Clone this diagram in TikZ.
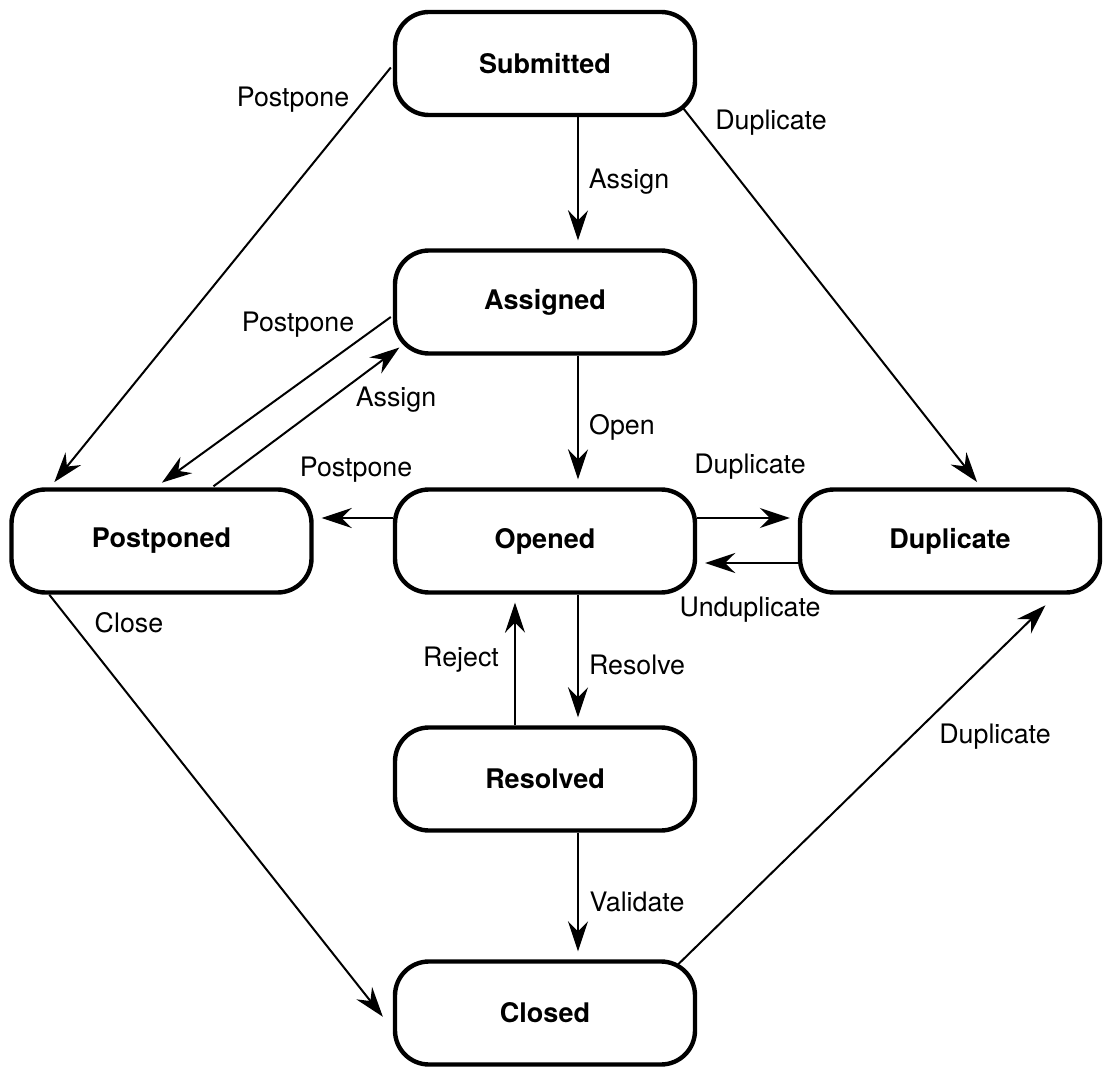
\documentclass[tikz,border=0pt]{standalone}
\usepackage{fontspec}
\setmainfont{TeX Gyre Heros}
\usetikzlibrary{arrows.meta,calc}
\tikzset{
  state/.style={draw=black, line width=2.2pt, fill=white,
                rounded corners=17pt, minimum width=150pt,
                minimum height=51.5pt, inner sep=0pt,
                font=\fontsize{13.5}{15}\selectfont\bfseries},
  flow/.style={-{Stealth[length=15pt,width=10pt,inset=5pt]},
               line width=1pt, shorten >=4pt},
  lab/.style={inner sep=0pt, font=\fontsize{13.4}{15}\selectfont},
}

\begin{document}
\begin{tikzpicture}[x=0.5pt,y=-0.5pt]
  \path[use as bounding box] (0,0) rectangle (1103,1069);

  % states
  \node[state] (sub) at (545,63.5) {Submitted};
  \node[state] (asg) at (545,302) {Assigned};
  \node[state] (pst) at (161.5,541) {Postponed};
  \node[state] (opn) at (545,541) {Opened};
  \node[state] (dup) at (950,541) {Duplicate};
  \node[state] (res) at (545,779) {Resolved};
  \node[state] (cls) at (545,1013) {Closed};

  % main column
  \draw[flow] ($(sub.south)+(33,0)$) -- ($(asg.north)+(33,0)$);
  \draw[flow] ($(asg.south)+(33,0)$) -- ($(opn.north)+(33,0)$);
  \draw[flow] ($(opn.south)+(33,0)$) -- ($(res.north)+(33,0)$);
  \draw[flow] ($(res.north)+(-30,0)$) -- ($(opn.south)+(-30,0)$);
  \draw[flow] ($(res.south)+(33,0)$) -- ($(cls.north)+(33,0)$);

  % sideways
  \draw[flow] ($(opn.east)+(0,-23)$) -- ($(dup.west)+(0,-23)$);
  \draw[flow] ($(dup.west)+(0,22)$) -- ($(opn.east)+(0,22)$);
  \draw[flow] ($(opn.west)+(0,-23)$) -- ($(pst.east)+(0,-23)$);

  % diagonals
  \draw[flow] ($(sub.west)+(-2,4)$) -- ($(pst.north west)+(40,1)$);
  \draw[flow] ($(asg.west)+(-2,15)$) -- ($(pst.north)+(-6,0)$);
  \draw[flow] ($(pst.north)+(52,-1)$) -- ($(asg.south west)+(13,-13)$);
  \draw[flow] ($(pst.south west)+(40,0)$) -- ($(cls.west)+(-5,10)$);
  \draw[flow] ($(sub.south east)+(-14,-9)$) -- ($(dup.north)+(32,1)$);
  \draw[flow] ($(cls.north east)+(-19,5)$) -- ($(dup.south east)+(-51,5)$);

  % labels
  \node[lab] (lassign1) at (629,182) {Assign};
  \node[lab] (lopen) at (622,427) {Open};
  \node[lab] (lresolve) at (637,665) {Resolve};
  \node[lab] (lreject) at (461,660) {Reject};
  \node[lab] (lvalidate) at (637,902) {Validate};
  \node[lab] (ldup1) at (750,467) {Duplicate};
  \node[lab] (lundup) at (750,610) {Unduplicate};
  \node[lab] (lpost1) at (356,470) {Postpone};
  \node[lab] (lpost2) at (293,100) {Postpone};
  \node[lab] (lpost3) at (298,325) {Postpone};
  \node[lab] (lassign2) at (396,400) {Assign};
  \node[lab] (lclose) at (129,623) {Close};
  \node[lab] (ldup2) at (771,123) {Duplicate};
  \node[lab] (ldup3) at (995,737) {Duplicate};
\end{tikzpicture}
\end{document}
